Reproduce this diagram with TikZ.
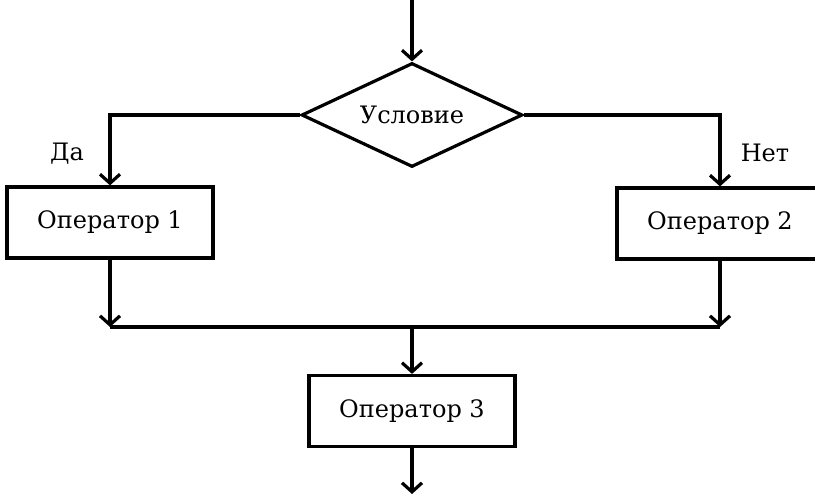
\documentclass[tikz,border=0pt]{standalone}
\usepackage{fontspec}
\setmainfont{DejaVu Serif}
\usetikzlibrary{shapes.geometric,arrows.meta}
\begin{document}
\begin{tikzpicture}[x=1pt,y=-1pt,
  every node/.style={font=\fontsize{24}{28}\selectfont},
  line/.style={line width=3.2pt},
  arr/.style={line width=3.2pt, -{Straight Barb[length=9pt,width=20pt,line width=3.2pt]}},
  opbox/.style={draw, line width=3.2pt, minimum width=206pt, minimum height=71pt, inner sep=0pt},
  cond/.style={draw, diamond, line width=3.2pt, minimum width=221pt, minimum height=104pt, inner sep=0pt, aspect=2.1}]
\useasboundingbox (0,0) rectangle (815,494);
\coordinate (top) at (412,0);
\node[cond] (d) at (412,115) {};
\node at (412,115) {Условие};
\node[opbox] (b1) at (110,222.5) {Оператор 1};
\node[opbox] (b2) at (720,223.5) {Оператор 2};
\coordinate (m1) at (110,327);
\coordinate (m2) at (720,327);
\coordinate (mc) at (412,327);
\node[opbox] (b3) at (412,411) {Оператор 3};
\coordinate (bot) at (412,494);
\node (yes) at (67,154) {Да};
\node (no) at (765,153) {Нет};
\draw[arr] (top) -- (d.north);
\draw[arr] (d.west) -| (b1.north);
\draw[arr] (d.east) -| (b2.north);
\draw[arr] (b1.south) -- (m1);
\draw[arr] (b2.south) -- (m2);
\draw[line] (m1) -- (m2);
\draw[arr] (mc) -- (b3.north);
\draw[arr] (b3.south) -- (bot);
\end{tikzpicture}
\end{document}
